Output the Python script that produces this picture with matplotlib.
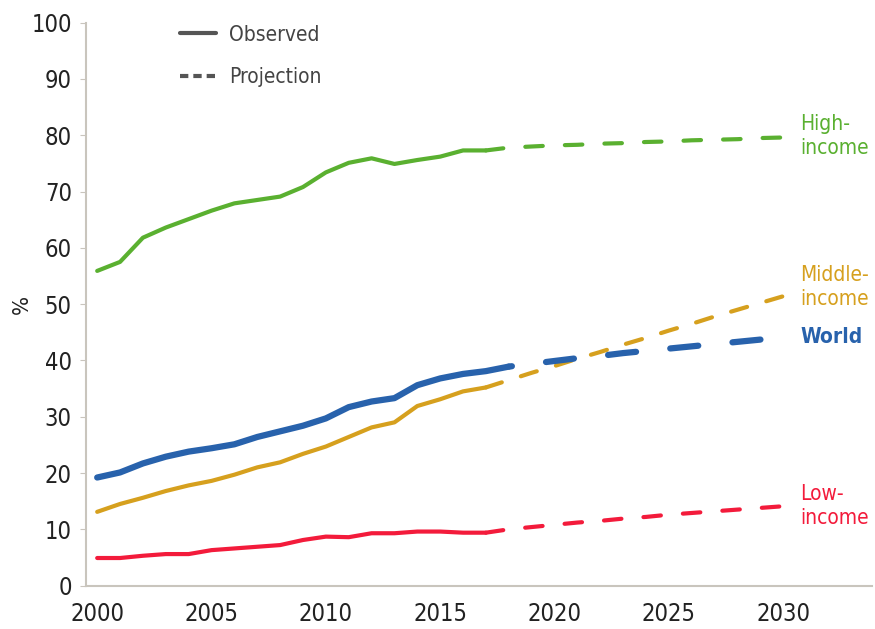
import matplotlib
matplotlib.use("Agg")
import matplotlib.pyplot as plt
from matplotlib.lines import Line2D

plt.rcParams["font.family"] = ["DejaVu Sans"]
plt.rcParams["font.stretch"] = "condensed"

# observed data, 2000-2017 (World to 2018)
obs_years = list(range(2000, 2018))
high_obs = [55.9, 57.5, 61.8, 63.6, 65.1, 66.6, 67.9, 68.5, 69.1, 70.8,
            73.4, 75.1, 75.9, 74.9, 75.6, 76.2, 77.3, 77.3]
middle_obs = [13.1, 14.5, 15.6, 16.8, 17.8, 18.6, 19.7, 21.0, 21.9, 23.4,
              24.7, 26.4, 28.1, 29.0, 31.9, 33.1, 34.5, 35.2]
low_obs = [4.9, 4.9, 5.3, 5.6, 5.6, 6.3, 6.6, 6.9, 7.2, 8.1,
           8.7, 8.6, 9.3, 9.3, 9.6, 9.6, 9.4, 9.4]
world_obs_years = list(range(2000, 2019))
world_obs = [19.2, 20.1, 21.7, 22.9, 23.8, 24.4, 25.1, 26.4, 27.4, 28.4,
             29.7, 31.7, 32.7, 33.3, 35.6, 36.8, 37.6, 38.1, 38.9]

# projections
proj_years = list(range(2017, 2031))
high_proj = [77.3, 77.8, 78.0, 78.2, 78.3, 78.5, 78.6, 78.8, 78.9, 79.1,
             79.2, 79.3, 79.5, 79.6]
middle_proj = [35.2, 36.5, 37.8, 39.0, 40.3, 41.5, 42.8, 44.0, 45.3, 46.5,
               47.8, 49.0, 50.2, 51.4]
low_proj = [9.4, 10.0, 10.4, 10.8, 11.2, 11.5, 11.9, 12.2, 12.6, 12.9,
            13.2, 13.5, 13.8, 14.1]
world_proj_years = list(range(2018, 2031))
world_proj = [38.9, 39.4, 39.9, 40.4, 40.8, 41.3, 41.7, 42.1, 42.5, 42.9,
              43.3, 43.7, 44.0]

GREEN = "#5AB030"
GOLD = "#D6A01E"
BLUE = "#2862AC"
RED = "#F31B3B"
AXIS = "#C9C5BD"

fig = plt.figure(figsize=(8.75, 6.29), dpi=100)
ax = fig.add_axes([0.098, 0.069, 0.899, 0.895])

series = [
    (obs_years, high_obs, proj_years, high_proj, GREEN, 3.0, (0, (4.2, 5.3))),
    (obs_years, middle_obs, proj_years, middle_proj, GOLD, 3.0, (0, (4.0, 4.8))),
    (obs_years, low_obs, proj_years, low_proj, RED, 3.0, (0, (4.2, 5.3))),
    # world projection starts with a gap after the observed line
    (world_obs_years, world_obs, world_proj_years, world_proj, BLUE, 4.5, (4.0, (4.5, 5.5))),
]
for xo, yo, xp, yp, c, lw, dash in series:
    ax.plot(xo, yo, color=c, lw=lw, solid_capstyle="round", solid_joinstyle="round")
    ax.plot(xp, yp, color=c, lw=lw, ls=dash, dash_capstyle="round")

# series labels
lab_kw = dict(fontsize=15, va="center", ha="left", linespacing=1.25)
ax.text(2030.75, 79.8, "High-\nincome", color=GREEN, **lab_kw)
ax.text(2030.75, 53.1, "Middle-\nincome", color=GOLD, **lab_kw)
ax.text(2030.75, 44.2, "World", color=BLUE, fontweight="bold", **lab_kw)
ax.text(2030.75, 14.1, "Low-\nincome", color=RED, **lab_kw)

# legend
handles = [Line2D([], [], color="#555555", lw=3, solid_capstyle="round"),
           Line2D([], [], color="#555555", lw=3, ls=(0, (2.0, 1.2)))]
ax.legend(handles, ["Observed", "Projection"], loc="upper left",
          bbox_to_anchor=(0.096, 1.03), frameon=False, fontsize=15,
          handlelength=1.75, handletextpad=0.6, labelspacing=1.1,
          labelcolor="#444444")

ax.set_xlim(1999.5, 2033.9)
ax.set_ylim(0, 100)
ax.set_xticks(range(2000, 2031, 5))
ax.set_yticks(range(0, 101, 10))
ax.set_ylabel("%", fontsize=16, color="#222222")
ax.yaxis.set_label_coords(-0.068, 0.5)
ax.tick_params(axis="y", length=4, color=AXIS, labelsize=17, labelcolor="#222222", pad=6)
ax.tick_params(axis="x", length=0, labelsize=17, labelcolor="#222222", pad=12)
for s in ["top", "right"]:
    ax.spines[s].set_visible(False)
for s in ["left", "bottom"]:
    ax.spines[s].set_color(AXIS)
    ax.spines[s].set_linewidth(1.5)

fig.savefig("out.png", dpi=100)
